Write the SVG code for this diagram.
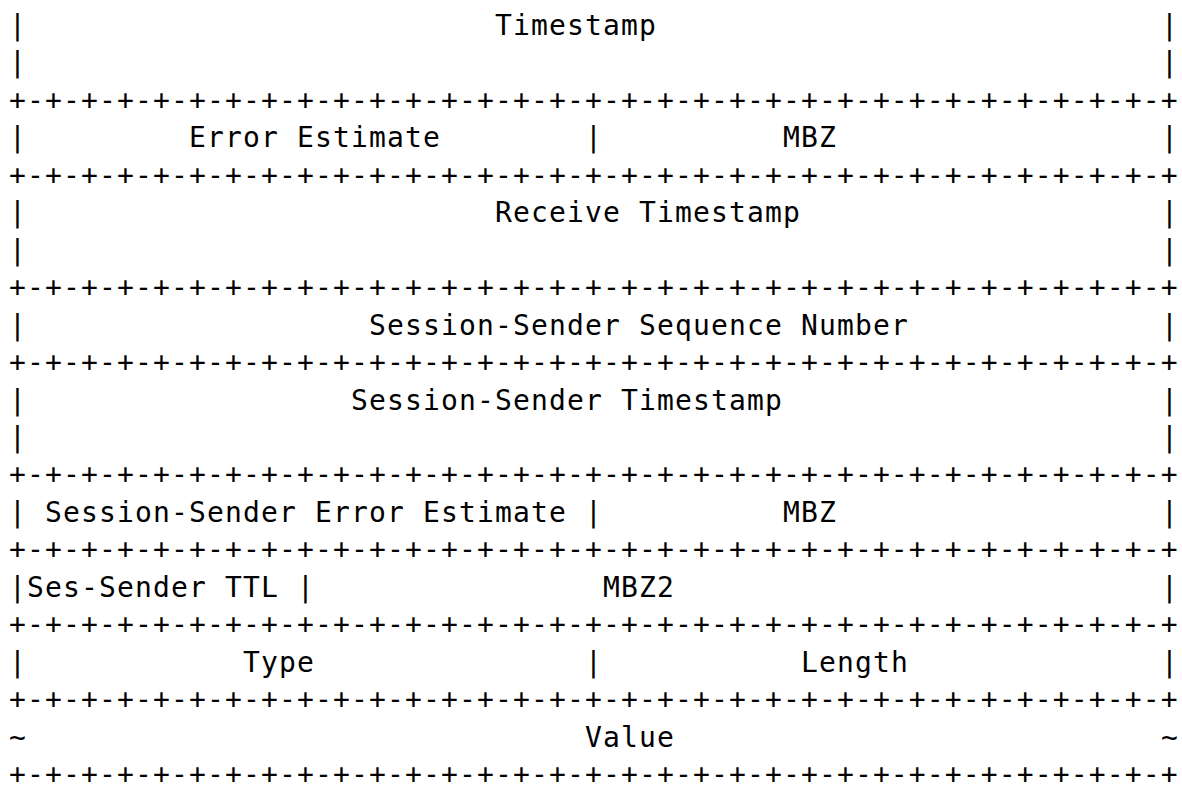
<svg xmlns="http://www.w3.org/2000/svg" width="1182" height="788" viewBox="0 0 1182 788">
  <style>
    text { font-family: "DejaVu Sans Mono", "Liberation Mono", monospace; font-size: 28px; letter-spacing: 1.14px; fill: #000; }
  </style>
  <rect x="0" y="0" width="1182" height="788" fill="#fff"/>

  <g id="separators">
    <text x="9" y="109.9">+-+-+-+-+-+-+-+-+-+-+-+-+-+-+-+-+-+-+-+-+-+-+-+-+-+-+-+-+-+-+-+-+</text>
    <text x="9" y="184.8">+-+-+-+-+-+-+-+-+-+-+-+-+-+-+-+-+-+-+-+-+-+-+-+-+-+-+-+-+-+-+-+-+</text>
    <text x="9" y="297.15">+-+-+-+-+-+-+-+-+-+-+-+-+-+-+-+-+-+-+-+-+-+-+-+-+-+-+-+-+-+-+-+-+</text>
    <text x="9" y="372.05">+-+-+-+-+-+-+-+-+-+-+-+-+-+-+-+-+-+-+-+-+-+-+-+-+-+-+-+-+-+-+-+-+</text>
    <text x="9" y="484.4">+-+-+-+-+-+-+-+-+-+-+-+-+-+-+-+-+-+-+-+-+-+-+-+-+-+-+-+-+-+-+-+-+</text>
    <text x="9" y="559.3">+-+-+-+-+-+-+-+-+-+-+-+-+-+-+-+-+-+-+-+-+-+-+-+-+-+-+-+-+-+-+-+-+</text>
    <text x="9" y="634.2">+-+-+-+-+-+-+-+-+-+-+-+-+-+-+-+-+-+-+-+-+-+-+-+-+-+-+-+-+-+-+-+-+</text>
    <text x="9" y="709.1">+-+-+-+-+-+-+-+-+-+-+-+-+-+-+-+-+-+-+-+-+-+-+-+-+-+-+-+-+-+-+-+-+</text>
    <text x="9" y="784">+-+-+-+-+-+-+-+-+-+-+-+-+-+-+-+-+-+-+-+-+-+-+-+-+-+-+-+-+-+-+-+-+</text>
  </g>

  <g id="field-timestamp">
    <text x="9" y="35">|</text>
    <text x="495" y="35">Timestamp</text>
    <text x="1161" y="35">|</text>
    <text x="9" y="72.45">|</text>
    <text x="1161" y="72.45">|</text>
  </g>

  <g id="field-error-estimate">
    <text x="9" y="147.35">|</text>
    <text x="189" y="147.35">Error Estimate</text>
    <text x="585" y="147.35">|</text>
  </g>
  <g id="field-mbz-1">
    <text x="783" y="147.35">MBZ</text>
    <text x="1161" y="147.35">|</text>
  </g>

  <g id="field-receive-timestamp">
    <text x="9" y="222.25">|</text>
    <text x="495" y="222.25">Receive Timestamp</text>
    <text x="1161" y="222.25">|</text>
    <text x="9" y="259.7">|</text>
    <text x="1161" y="259.7">|</text>
  </g>

  <g id="field-sender-seq">
    <text x="9" y="334.6">|</text>
    <text x="369" y="334.6">Session-Sender Sequence Number</text>
    <text x="1161" y="334.6">|</text>
  </g>

  <g id="field-sender-timestamp">
    <text x="9" y="409.5">|</text>
    <text x="351" y="409.5">Session-Sender Timestamp</text>
    <text x="1161" y="409.5">|</text>
    <text x="9" y="446.95">|</text>
    <text x="1161" y="446.95">|</text>
  </g>

  <g id="field-sender-error-estimate">
    <text x="9" y="521.85">|</text>
    <text x="45" y="521.85">Session-Sender Error Estimate</text>
    <text x="585" y="521.85">|</text>
  </g>
  <g id="field-mbz-2">
    <text x="783" y="521.85">MBZ</text>
    <text x="1161" y="521.85">|</text>
  </g>

  <g id="field-ses-sender-ttl">
    <text x="9" y="596.75">|</text>
    <text x="27" y="596.75">Ses-Sender TTL</text>
    <text x="297" y="596.75">|</text>
  </g>
  <g id="field-mbz2">
    <text x="603" y="596.75">MBZ2</text>
    <text x="1161" y="596.75">|</text>
  </g>

  <g id="field-type">
    <text x="9" y="671.65">|</text>
    <text x="243" y="671.65">Type</text>
    <text x="585" y="671.65">|</text>
  </g>
  <g id="field-length">
    <text x="801" y="671.65">Length</text>
    <text x="1161" y="671.65">|</text>
  </g>

  <g id="field-value">
    <text x="9" y="746.55">~</text>
    <text x="585" y="746.55">Value</text>
    <text x="1161" y="746.55">~</text>
  </g>
</svg>
